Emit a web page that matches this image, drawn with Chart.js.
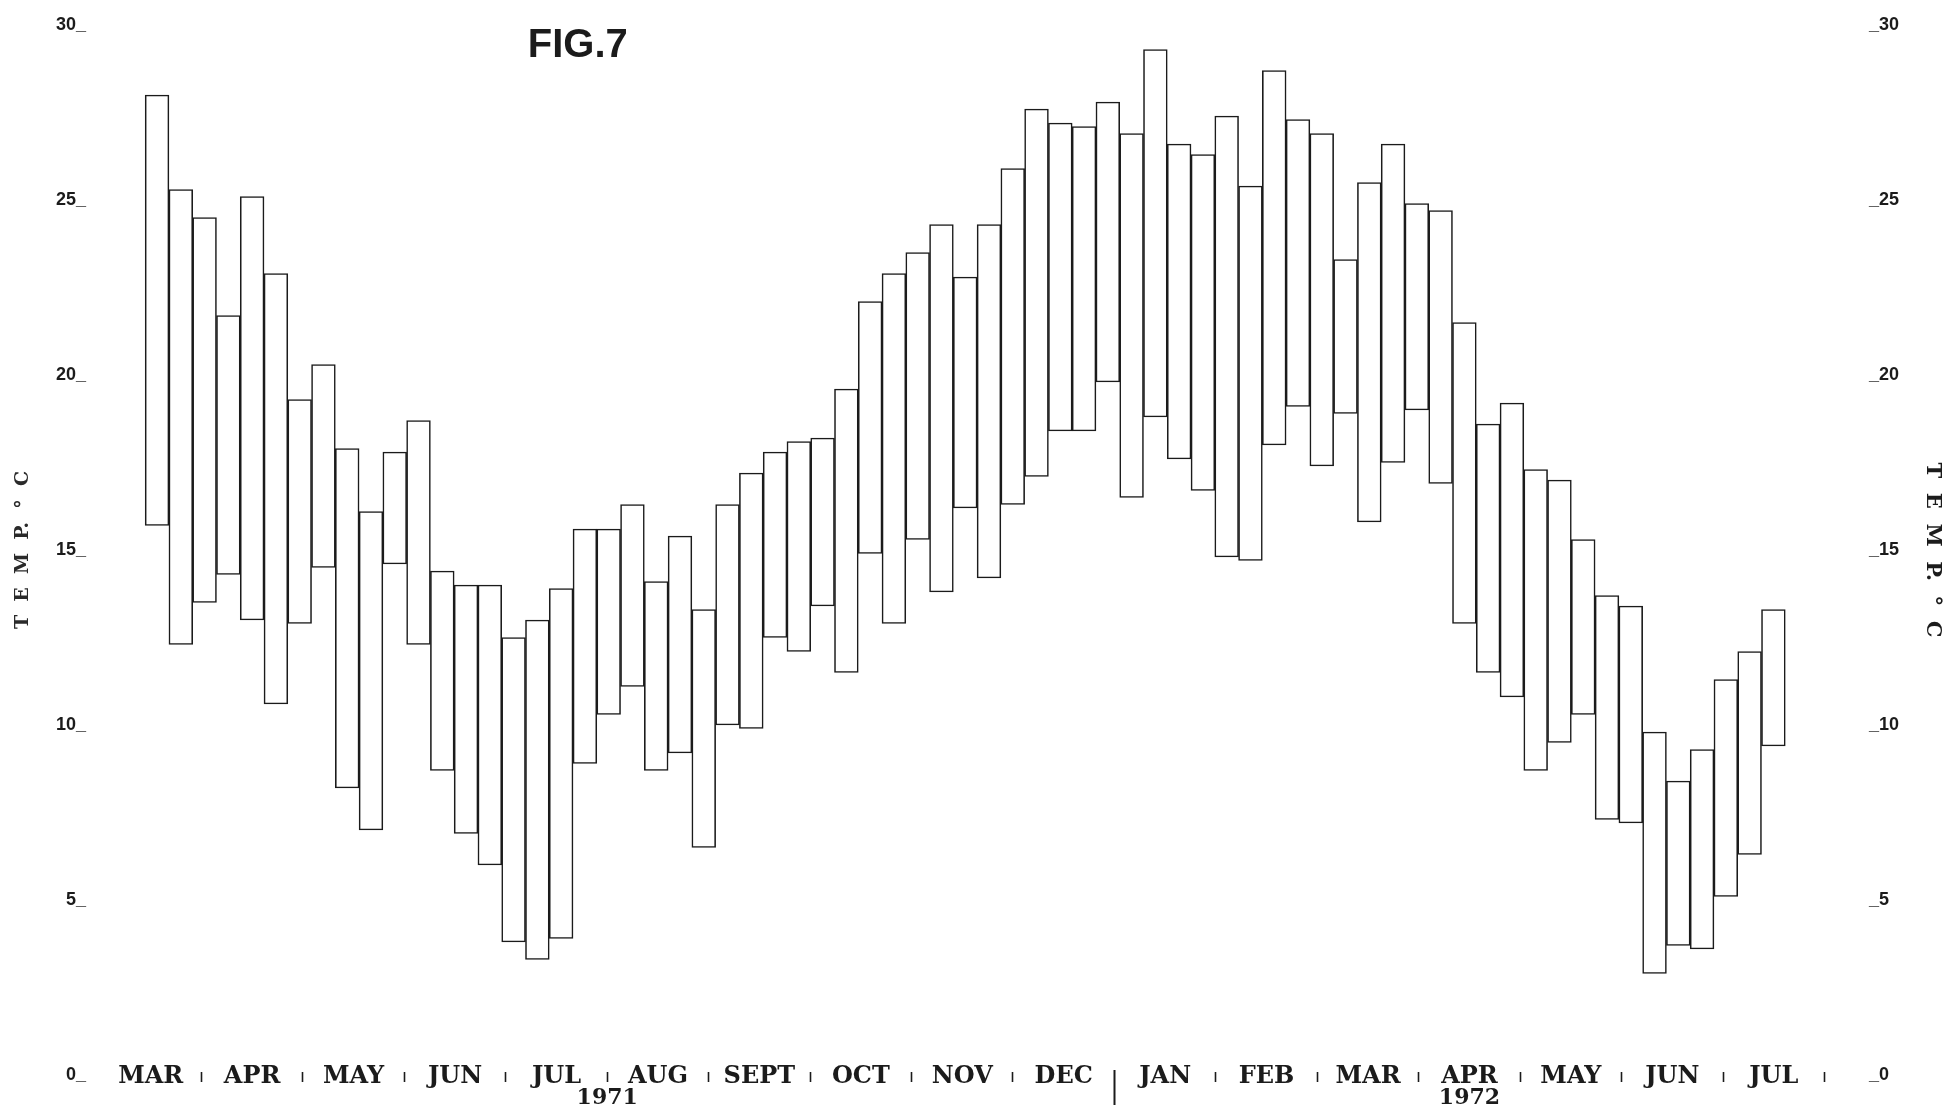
<!DOCTYPE html>
<html>
<head>
<meta charset="utf-8">
<title>FIG.7</title>
<script src="https://cdn.jsdelivr.net/npm/chart.js@4.4.1/dist/chart.umd.min.js"></script>
<style>
  html, body { margin: 0; padding: 0; background: #fff; }
  #wrap { width: 1946px; height: 1107px; }
</style>
</head>
<body>
<div id="wrap"><canvas id="chart"></canvas></div>
<script>
// weekly maximum / minimum temperature (deg C), mid March 1971 - July 1972
var weekHigh = [
  28.0, 25.3, 24.5, 21.7, 25.1, 22.9, 19.3, 20.3, 17.9, 16.1,
  17.8, 18.7, 14.4, 14.0, 14.0, 12.5, 13.0, 13.9, 15.6, 15.6,
  16.3, 14.1, 15.4, 13.3, 16.3, 17.2, 17.8, 18.1, 18.2, 19.6,
  22.1, 22.9, 23.5, 24.3, 22.8, 24.3, 25.9, 27.6, 27.2, 27.1,
  27.8, 26.9, 29.3, 26.6, 26.3, 27.4, 25.4, 28.7, 27.3, 26.9,
  23.3, 25.5, 26.6, 24.9, 24.7, 21.5, 18.6, 19.2, 17.3, 17.0,
  15.3, 13.7, 13.4, 9.8, 8.4, 9.3, 11.3, 12.1, 13.3
];
var weekLow = [
  15.7, 12.3, 13.5, 14.3, 13.0, 10.6, 12.9, 14.5, 8.2, 7.0,
  14.6, 12.3, 8.7, 6.9, 6.0, 3.8, 3.3, 3.9, 8.9, 10.3,
  11.1, 8.7, 9.2, 6.5, 10.0, 9.9, 12.5, 12.1, 13.4, 11.5,
  14.9, 12.9, 15.3, 13.8, 16.2, 14.2, 16.3, 17.1, 18.4, 18.4,
  19.8, 16.5, 18.8, 17.6, 16.7, 14.8, 14.7, 18.0, 19.1, 17.4,
  18.9, 15.8, 17.5, 19.0, 16.9, 12.9, 11.5, 10.8, 8.7, 9.5,
  10.3, 7.3, 7.2, 2.9, 3.7, 3.6, 5.1, 6.3, 9.4
];
var monthNames = ["MAR", "APR", "MAY", "JUN", "JUL", "AUG", "SEPT", "OCT", "NOV",
  "DEC", "JAN", "FEB", "MAR", "APR", "MAY", "JUN", "JUL"];
var yearLabels = ["1971", "1972"];
var tempTicks = [0, 5, 10, 15, 20, 25, 30];

// axis ranges: weeks for the bars, months for the label row (same pixel span)
var WEEK_MIN = -2.4, WEEK_MAX = 71.56;
var MONTH_MAX = 17.33;
var YEAR_AT = [5, 13.5];
var YEAR_BREAK = 10;
var FIG_AT = 4.71;

var ink = "#1b1b1b";
var serifBold = { family: "'DejaVu Serif', serif", weight: "bold" };
var sans = "'Liberation Sans', Arial, sans-serif";

var bars = weekHigh.map(function (h, i) {
  return { x: i, y: [weekLow[i], h] };
});

function fixedTicks(values) {
  return function (axis) {
    axis.ticks = values.map(function (v) { return { value: v }; });
  };
}

var monthCentres = monthNames.map(function (m, i) { return i + 0.5; });
var monthBreaks = [];
for (var k = 1; k <= monthNames.length; k++) {
  if (k !== YEAR_BREAK) monthBreaks.push(k);
}

// extra x axes in month units, pinned to a y value, used for the label row
function labelRow(yAt, ticks) {
  return {
    type: "linear",
    axis: "x",
    position: { y: yAt },
    offset: false,
    min: 0,
    max: MONTH_MAX,
    grid: { display: false, offset: false },
    border: { display: false },
    afterBuildTicks: fixedTicks(ticks),
    ticks: {
      autoSkip: false,
      maxRotation: 0,
      color: ink,
      padding: 0,
      callback: function () { return ""; }
    }
  };
}

function tickMarks(length, width) {
  return {
    display: true, offset: false, drawOnChartArea: false, drawTicks: true,
    tickLength: length, tickWidth: width, tickColor: ink
  };
}

var scales = {
  x: {
    type: "linear",
    display: false,
    offset: false,
    min: WEEK_MIN,
    max: WEEK_MAX,
    afterBuildTicks: fixedTicks(weekHigh.map(function (v, i) { return i; }))
  },
  y: {
    position: "left",
    min: 0,
    max: 30,
    grid: { display: false },
    border: { display: false },
    afterBuildTicks: fixedTicks(tempTicks),
    afterFit: function (axis) { axis.width = 100; },
    ticks: {
      color: ink,
      padding: 6,
      font: { family: sans, size: 18, weight: "bold" },
      callback: function (v) { return v + "_"; }
    },
    title: {
      display: true,
      text: "T  E  M  P.  °  C",
      color: "#2a2a2a",
      padding: { top: 12, bottom: 0 },
      font: { family: "'DejaVu Serif', serif", size: 19, weight: "bold" }
    }
  },
  y2: {
    position: "right",
    min: 0,
    max: 30,
    grid: { display: false },
    border: { display: false },
    afterBuildTicks: fixedTicks(tempTicks),
    afterFit: function (axis) { axis.width = 88; },
    ticks: {
      color: ink,
      padding: 3,
      font: { family: sans, size: 18, weight: "bold" },
      callback: function (v) { return "_" + v; }
    },
    title: {
      display: true,
      text: "T  E  M  P.  °  C",
      color: ink,
      padding: { top: 1, bottom: 0 },
      font: { family: "'DejaVu Serif', serif", size: 21, weight: "bold" }
    }
  },
  months: labelRow(0, monthCentres),
  years: labelRow(0, YEAR_AT),
  monthSep: labelRow(0.086, monthBreaks),
  yearSep: labelRow(0.14, [YEAR_BREAK]),
  fig: labelRow(30, [FIG_AT])
};

scales.months.ticks.font = Object.assign({ size: 24 }, serifBold);
scales.months.ticks.padding = -21;
scales.months.ticks.callback = function (v, i) { return monthNames[i]; };

scales.years.ticks.font = Object.assign({ size: 22 }, serifBold);
scales.years.ticks.padding = 2;
scales.years.ticks.callback = function (v, i) { return yearLabels[i]; };

scales.monthSep.grid = tickMarks(10, 1.6);
scales.yearSep.grid = tickMarks(35, 2);

scales.fig.ticks.font = { family: sans, size: 40, weight: "bold" };
scales.fig.ticks.padding = -11;
scales.fig.ticks.callback = function () { return "FIG.7"; };

var config = {
  type: "bar",
  data: {
    datasets: [
      {
        label: "Weekly temperature range",
        data: bars,
        xAxisID: "x",
        yAxisID: "y",
        backgroundColor: "#ffffff",
        borderColor: ink,
        borderWidth: 1.6,
        borderSkipped: false,
        barPercentage: 1,
        categoryPercentage: 1
      }
    ]
  },
  options: {
    responsive: true,
    maintainAspectRatio: false,
    animation: false,
    devicePixelRatio: 1,
    layout: {
      padding: { top: 25, bottom: 32, left: 0, right: 0 }
    },
    plugins: {
      legend: { display: false },
      tooltip: { enabled: false }
    },
    scales: scales
  }
};

window.onload = function () {
  var ctx = document.getElementById("chart").getContext("2d");
  window.tempChart = new Chart(ctx, config);
};
</script>
</body>
</html>
